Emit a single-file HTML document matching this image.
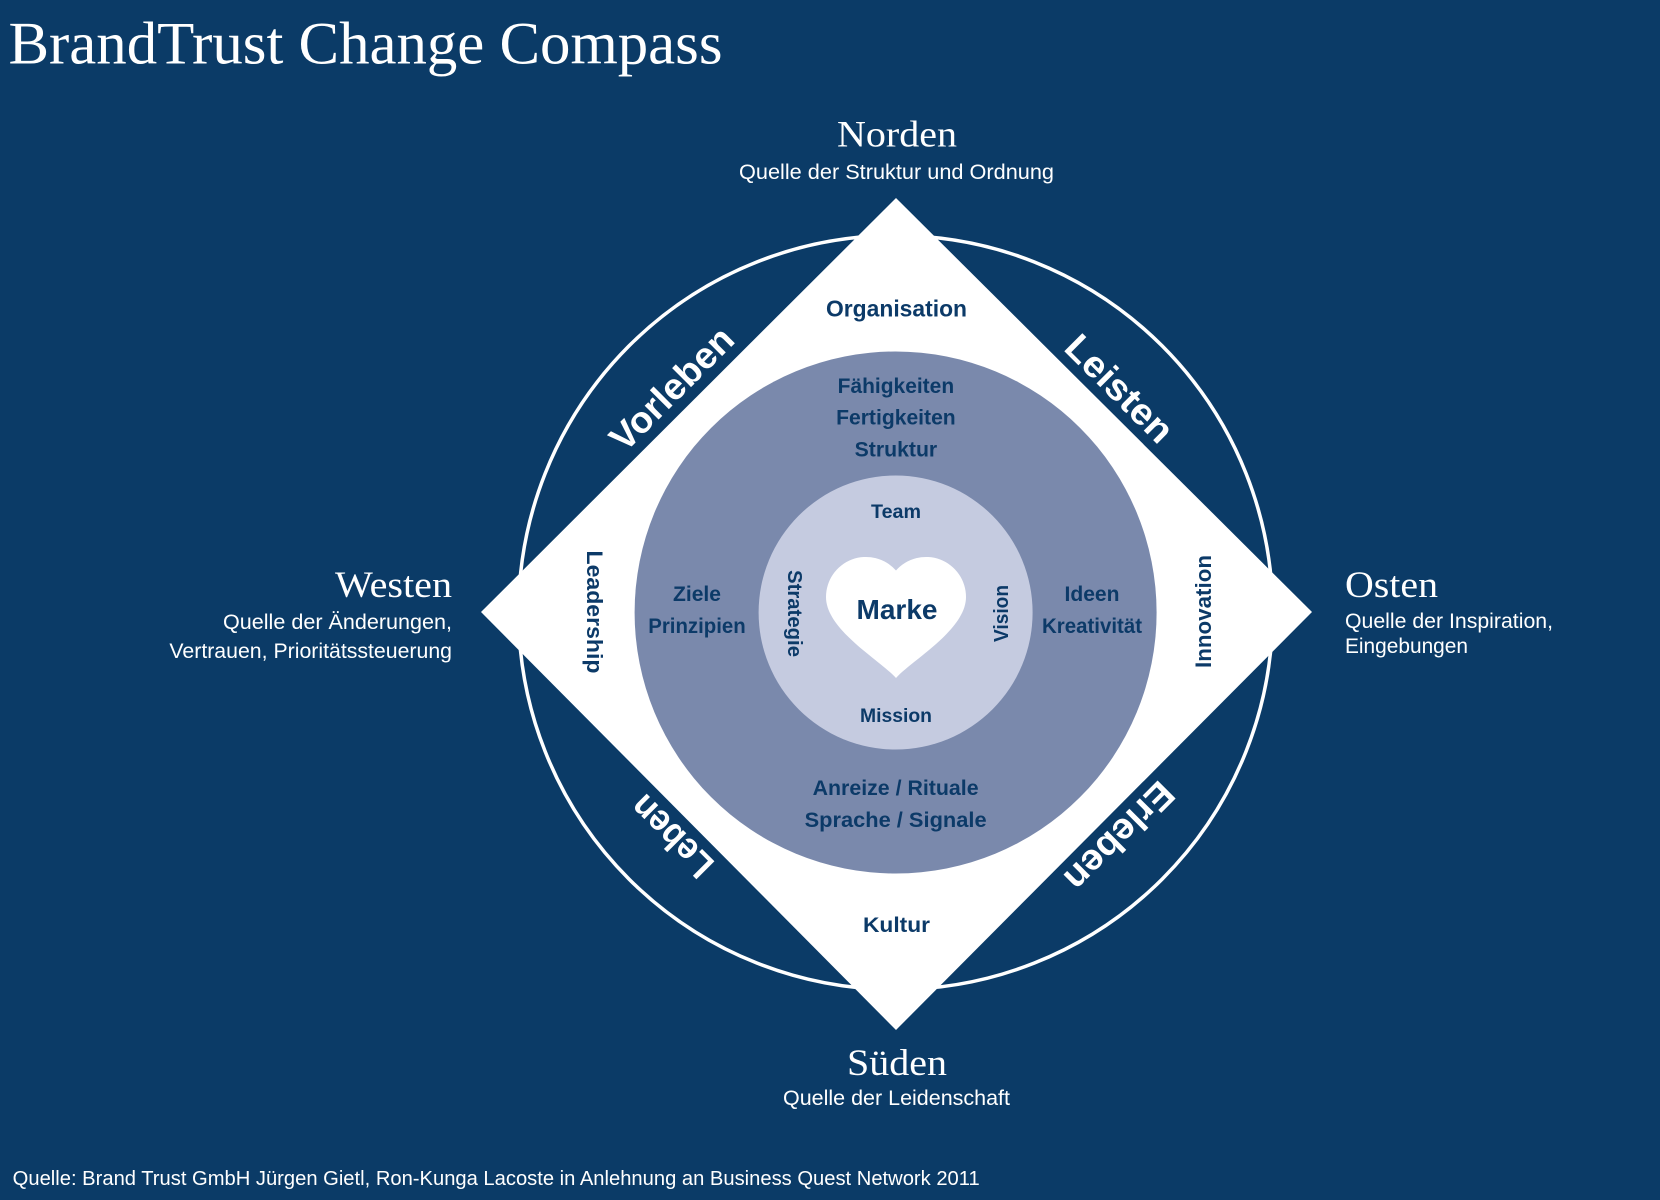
<!DOCTYPE html>
<html>
<head>
<meta charset="utf-8">
<style>
  html,body{margin:0;padding:0;background:#0b3b67;}
  svg{display:block;}
  .b{font-family:"Liberation Sans",Arial,sans-serif;font-weight:bold;fill:#0c3a68;}
  .w{font-family:"Liberation Sans",Arial,sans-serif;font-weight:bold;fill:#ffffff;}
  .s{font-family:"Liberation Serif","Times New Roman",serif;fill:#ffffff;}
  .r{font-family:"Liberation Sans",Arial,sans-serif;fill:#ffffff;}
</style>
</head>
<body>
<svg width="1660" height="1200" viewBox="0 0 1660 1200" xmlns="http://www.w3.org/2000/svg">
  <rect x="0" y="0" width="1660" height="1200" fill="#0b3b67"/>

  <!-- outer ring -->
  <circle cx="895.6" cy="612.5" r="377" fill="none" stroke="#ffffff" stroke-width="3.5"/>
  <!-- diamond -->
  <polygon points="896,198 1312,612 896,1030 481,612" fill="#ffffff"/>
  <!-- middle circle -->
  <circle cx="895.6" cy="612.5" r="261" fill="#7a89ac"/>
  <!-- inner circle -->
  <circle cx="895.6" cy="612.5" r="137" fill="#c5cbe0"/>
  <!-- heart -->
  <path d="M896 678 C880 660 826 630 826 597 A40 40 0 0 1 896 570.5 A40 40 0 0 1 966 597 C966 630 912 660 896 678 Z" fill="#ffffff"/>

  <!-- Title -->
  <text class="s" x="8.5" y="63.5" font-size="60" textLength="714" lengthAdjust="spacingAndGlyphs">BrandTrust Change Compass</text>

  <!-- Compass directions -->
  <text class="s" x="897" y="146.7" font-size="37" text-anchor="middle" textLength="120" lengthAdjust="spacingAndGlyphs">Norden</text>
  <text class="r" x="896.5" y="179" font-size="21" text-anchor="middle" textLength="315" lengthAdjust="spacingAndGlyphs">Quelle der Struktur und Ordnung</text>

  <text class="s" x="452" y="597" font-size="37" text-anchor="end" textLength="117" lengthAdjust="spacingAndGlyphs">Westen</text>
  <text class="r" x="452" y="629" font-size="21" text-anchor="end" textLength="229" lengthAdjust="spacingAndGlyphs">Quelle der Änderungen,</text>
  <text class="r" x="452" y="658" font-size="21" text-anchor="end" textLength="282.6" lengthAdjust="spacingAndGlyphs">Vertrauen, Prioritätssteuerung</text>

  <text class="s" x="1345" y="597" font-size="37" textLength="93" lengthAdjust="spacingAndGlyphs">Osten</text>
  <text class="r" x="1345" y="628" font-size="21" textLength="208" lengthAdjust="spacingAndGlyphs">Quelle der Inspiration,</text>
  <text class="r" x="1345" y="653" font-size="21" textLength="123" lengthAdjust="spacingAndGlyphs">Eingebungen</text>

  <text class="s" x="897" y="1075" font-size="37" text-anchor="middle" textLength="100" lengthAdjust="spacingAndGlyphs">Süden</text>
  <text class="r" x="896.5" y="1105" font-size="21" text-anchor="middle" textLength="227" lengthAdjust="spacingAndGlyphs">Quelle der Leidenschaft</text>

  <!-- Footer -->
  <text class="r" x="12.7" y="1185" font-size="20" textLength="967" lengthAdjust="spacingAndGlyphs">Quelle: Brand Trust GmbH Jürgen Gietl, Ron-Kunga Lacoste in Anlehnung an Business Quest Network 2011</text>

  <!-- Band words -->
  <text class="w" transform="translate(671.4,388.3) rotate(-45)" x="0" y="13" font-size="37" text-anchor="middle" textLength="158" lengthAdjust="spacingAndGlyphs">Vorleben</text>
  <text class="w" transform="translate(1119.8,388.3) rotate(45)" x="0" y="13" font-size="37" text-anchor="middle" textLength="136" lengthAdjust="spacingAndGlyphs">Leisten</text>
  <text class="w" transform="translate(1119.8,836.7) rotate(135)" x="0" y="13" font-size="37" text-anchor="middle" textLength="138" lengthAdjust="spacingAndGlyphs">Erleben</text>
  <text class="w" transform="translate(671.4,836.7) rotate(-135)" x="0" y="13" font-size="37" text-anchor="middle" textLength="100" lengthAdjust="spacingAndGlyphs">Leben</text>

  <!-- Diamond labels -->
  <text class="b" x="896.5" y="316.7" font-size="23" text-anchor="middle" textLength="141" lengthAdjust="spacingAndGlyphs">Organisation</text>
  <text class="b" x="896.5" y="932" font-size="21" text-anchor="middle" textLength="67" lengthAdjust="spacingAndGlyphs">Kultur</text>
  <text class="b" transform="translate(587,612) rotate(90)" x="0" y="0" font-size="22" text-anchor="middle" textLength="123" lengthAdjust="spacingAndGlyphs">Leadership</text>
  <text class="b" transform="translate(1211,611.5) rotate(-90)" x="0" y="0" font-size="22" text-anchor="middle" textLength="113" lengthAdjust="spacingAndGlyphs">Innovation</text>

  <!-- Middle ring labels -->
  <text class="b" x="895.9" y="392.8" font-size="21" text-anchor="middle" textLength="116.5" lengthAdjust="spacingAndGlyphs">Fähigkeiten</text>
  <text class="b" x="895.9" y="424.5" font-size="21" text-anchor="middle" textLength="119.6" lengthAdjust="spacingAndGlyphs">Fertigkeiten</text>
  <text class="b" x="895.9" y="456.3" font-size="21" text-anchor="middle" textLength="82.6" lengthAdjust="spacingAndGlyphs">Struktur</text>
  <text class="b" x="697" y="601" font-size="21" text-anchor="middle" textLength="48" lengthAdjust="spacingAndGlyphs">Ziele</text>
  <text class="b" x="697" y="633" font-size="21" text-anchor="middle" textLength="97.5" lengthAdjust="spacingAndGlyphs">Prinzipien</text>
  <text class="b" x="1092" y="601" font-size="21" text-anchor="middle" textLength="55" lengthAdjust="spacingAndGlyphs">Ideen</text>
  <text class="b" x="1092" y="633" font-size="21" text-anchor="middle" textLength="100" lengthAdjust="spacingAndGlyphs">Kreativität</text>
  <text class="b" x="895.6" y="795" font-size="21" text-anchor="middle" textLength="166" lengthAdjust="spacingAndGlyphs">Anreize / Rituale</text>
  <text class="b" x="895.6" y="827" font-size="21" text-anchor="middle" textLength="182" lengthAdjust="spacingAndGlyphs">Sprache / Signale</text>

  <!-- Inner circle labels -->
  <text class="b" x="896" y="518" font-size="19" text-anchor="middle" textLength="50" lengthAdjust="spacingAndGlyphs">Team</text>
  <text class="b" x="896" y="722" font-size="19" text-anchor="middle" textLength="72" lengthAdjust="spacingAndGlyphs">Mission</text>
  <text class="b" transform="translate(788,613.5) rotate(90)" x="0" y="0" font-size="20" text-anchor="middle" textLength="87" lengthAdjust="spacingAndGlyphs">Strategie</text>
  <text class="b" transform="translate(1008,613.5) rotate(-90)" x="0" y="0" font-size="20" text-anchor="middle" textLength="57" lengthAdjust="spacingAndGlyphs">Vision</text>
  <text class="b" x="897" y="619" font-size="28" text-anchor="middle" textLength="81" lengthAdjust="spacingAndGlyphs">Marke</text>
</svg>
</body>
</html>
